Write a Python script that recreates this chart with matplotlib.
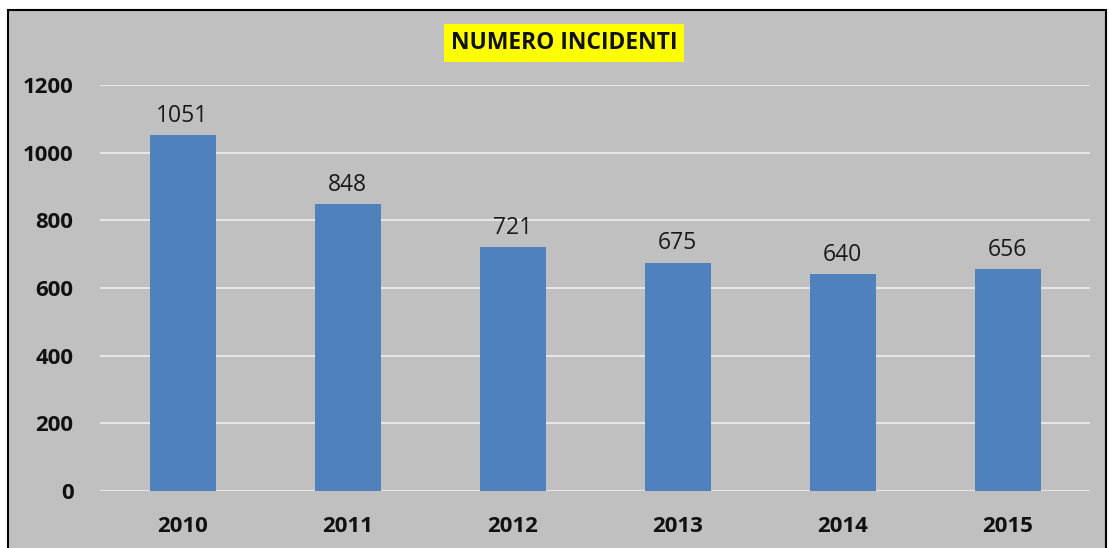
import matplotlib.pyplot as plt
from matplotlib.patches import Rectangle

years = ['2010', '2011', '2012', '2013', '2014', '2015']
incidenti = [1051, 848, 721, 675, 640, 656]
y_ticks = [0, 200, 400, 600, 800, 1000, 1200]

W, H = 1110, 548
fig = plt.figure(figsize=(W / 100, H / 100), dpi=100, facecolor='white')
plt.rcParams['font.family'] = ['Open Sans', 'DejaVu Sans']

# gray chart background with black frame
bg = Rectangle((8 / W, -0.01), (1106 - 8) / W, (H - 10) / H + 0.01,
               transform=fig.transFigure, facecolor='#c0c0c0',
               edgecolor='black', linewidth=1.5, zorder=-10)
fig.add_artist(bg)

ax = fig.add_axes([100 / W, (H - 491) / H, (1090 - 100) / W, (491 - 85) / H])
ax.set_facecolor('none')
x = range(len(years))
ax.bar(x, incidenti, width=0.4, color='#4f81bd', zorder=3)
for i, v in enumerate(incidenti):
    ax.text(i, v + 22, str(v), ha='center', va='bottom', fontsize=16.5, color='#1a1a1a')

ax.set_xlim(-0.5, len(years) - 0.5)
ax.set_ylim(0, 1200)
ax.set_yticks(y_ticks)
ax.set_xticks(list(x))
ax.set_xticklabels(years)
ax.grid(axis='y', color='#e6e6e6', linewidth=1.5, zorder=1)
ax.set_axisbelow(True)
ax.tick_params(length=0, labelsize=16)
ax.tick_params(axis='y', pad=19)
ax.tick_params(axis='x', pad=18)
for lbl in ax.get_xticklabels() + ax.get_yticklabels():
    lbl.set_fontweight('bold')
    lbl.set_color('#111111')
for s in ax.spines.values():
    s.set_visible(False)

fig.text(564 / W, (H - 43) / H, 'NUMERO INCIDENTI', ha='center', va='center',
         fontsize=16.5, fontweight='bold', color='#111111',
         bbox=dict(boxstyle='square,pad=0.3', facecolor='#ffff00', edgecolor='none'))

fig.savefig('out.png', dpi=100)
